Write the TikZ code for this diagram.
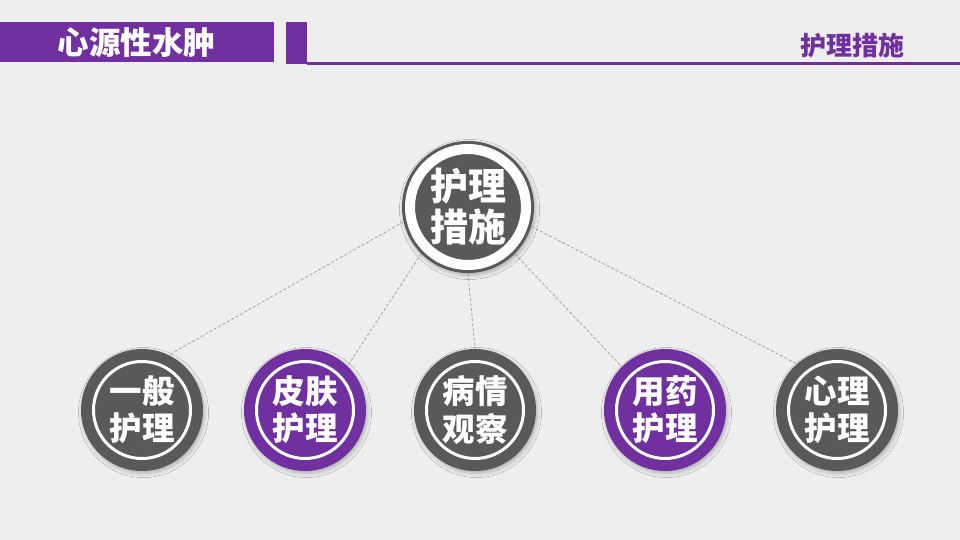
\documentclass[tikz,border=0pt]{standalone}
\usepackage{fontspec}
\newfontfamily\cjk{Noto Sans CJK SC}
\usetikzlibrary{shadows.blur}
\definecolor{pur}{HTML}{7030A0}
\definecolor{dg}{HTML}{595959}
\definecolor{bg}{HTML}{EEEEEE}
\definecolor{dashc}{HTML}{9A9A9A}
\tikzset{
  smallc/.style={circle, minimum size=122pt, inner sep=0pt, fill=#1, draw=none,
    blur shadow={shadow xshift=1.5pt, shadow yshift=-2.5pt, shadow blur radius=4pt, shadow opacity=25},
    text=white, font=\cjk\bfseries\fontsize{32.5}{37}\selectfont, align=center},
  bigc/.style={circle, minimum size=132pt, inner sep=0pt, fill=dg, draw=none,
    blur shadow={shadow xshift=1.5pt, shadow yshift=-2.5pt, shadow blur radius=4pt, shadow opacity=25},
    text=white, font=\cjk\bfseries\fontsize{38}{41}\selectfont, align=center},
  link/.style={draw=dashc, line width=0.7pt, dash pattern=on 3pt off 2pt},
  ring/.style={draw=white, line width=#1}
}
\begin{document}
\begin{tikzpicture}[x=1pt,y=-1pt]
\fill[bg] (0,0) rectangle (960,540);
\useasboundingbox (0,0) rectangle (960,540);
% header
\fill[pur] (0,22) rectangle (274,62);
\fill[pur] (286,22) rectangle (307,64);
\fill[pur] (307,62) rectangle (960,65);
\node[text=white, font=\cjk\bfseries\fontsize{31.5}{31.5}\selectfont] (title) at (136.5,43) {心源性水肿};
\node[text=pur, font=\cjk\bfseries\fontsize{26}{26}\selectfont] (section) at (852,46) {护理措施};
% nodes
\node[bigc] (top) at (468,207) {护理\\措施};
\draw[ring=10pt] (top.center) circle (58pt);
\node[smallc=dg]  (b1) at (142,410) {一般\\护理};
\node[smallc=pur] (b2) at (305,410) {皮肤\\护理};
\node[smallc=dg]  (b3) at (475,410) {病情\\观察};
\node[smallc=pur] (b4) at (665,410) {用药\\护理};
\node[smallc=dg]  (b5) at (837,410) {心理\\护理};
\foreach \n in {b1,b2,b3,b4,b5} {\draw[ring=3pt] (\n.center) circle (48.5pt);}
% links
\draw[link] (top.193) -- (b1.64);
\draw[link] (top.225) -- (b2.46);
\draw[link] (top.270) -- (b3.90);
\draw[link] (top.315) -- (b4.135);
\draw[link] (top.343) -- (b5.131);
\end{tikzpicture}
\end{document}
